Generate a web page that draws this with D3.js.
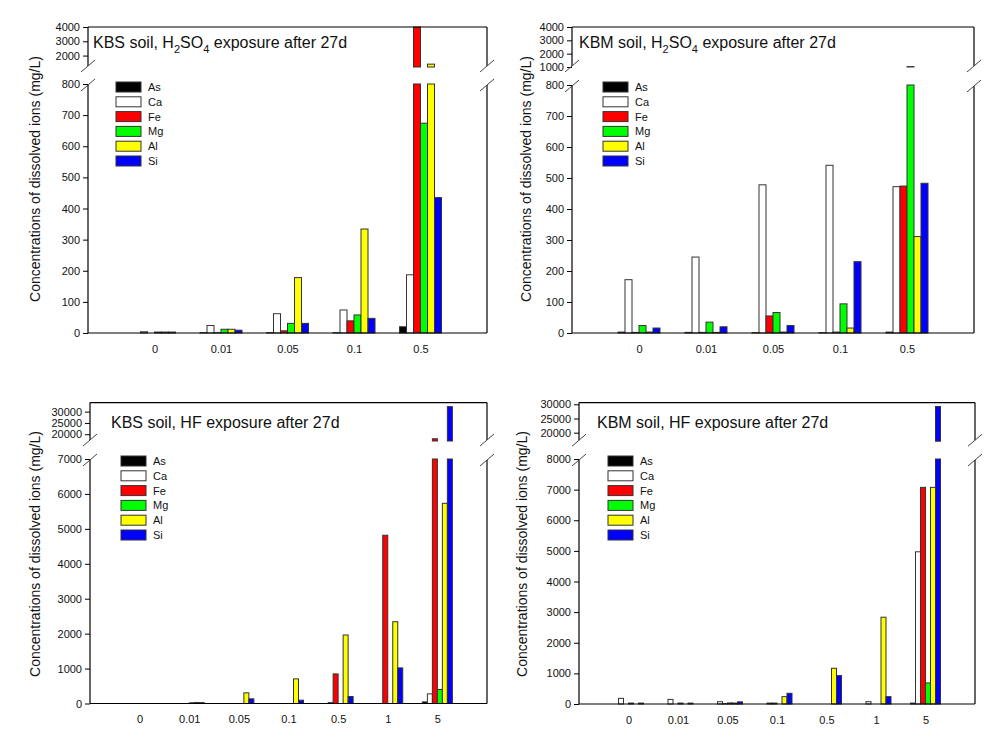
<!DOCTYPE html>
<html>
<head>
<meta charset="utf-8">
<script src="https://cdn.jsdelivr.net/npm/d3@7"></script>
<style>
  html, body { margin: 0; padding: 0; background: #ffffff; }
  svg { display: block; }
</style>
</head>
<body>
<script>
// ---------------- DATA ----------------
const ions = ["As", "Ca", "Fe", "Mg", "Al", "Si"];
const acidLevelsH2SO4 = ["0", "0.01", "0.05", "0.1", "0.5"];
const acidLevelsHF = ["0", "0.01", "0.05", "0.1", "0.5", "1", "5"];

// rows follow the order of `ions`, columns follow the acid levels (mg/L)
const kbsH2SO4Values = [
  [0, 1, 1, 1, 20],          // As
  [4, 24, 62, 74, 187],      // Ca
  [0, 1, 7, 39, 4000],       // Fe
  [3, 12, 31, 58, 674],      // Mg
  [3, 12, 178, 334, 1400],   // Al
  [3, 9, 31, 47, 435]        // Si
];
const kbmH2SO4Values = [
  [3, 2, 1, 1, 3],
  [172, 245, 478, 541, 472],
  [2, 2, 55, 3, 474],
  [24, 35, 66, 94, 1030],
  [3, 2, 3, 16, 311],
  [16, 20, 24, 230, 483]
];
const kbsHFValues = [
  [0, 0, 0, 0, 0, 0, 45],
  [0, 0, 0, 0, 25, 0, 276],
  [0, 0, 0, 0, 847, 4817, 18000],
  [0, 20, 0, 0, 0, 0, 400],
  [0, 30, 305, 705, 1961, 2342, 5731],
  [0, 25, 133, 95, 200, 1019, 32200]
];
const kbmHFValues = [
  [0, 0, 0, 0, 0, 0, 30],
  [185, 150, 75, 30, 0, 76, 4970],
  [0, 0, 10, 30, 0, 0, 7074],
  [30, 30, 35, 0, 0, 0, 687],
  [0, 0, 30, 240, 1166, 2834, 7074],
  [30, 30, 70, 350, 927, 240, 29200]
];

// tick labels
const lowTicksH2SO4 = [0, 100, 200, 300, 400, 500, 600, 700, 800];
const upTicksKBSH2SO4 = [2000, 3000, 4000];
const upTicksKBMH2SO4 = [1000, 2000, 3000, 4000];
const lowTicksKBSHF = [0, 1000, 2000, 3000, 4000, 5000, 6000, 7000];
const lowTicksKBMHF = [0, 1000, 2000, 3000, 4000, 5000, 6000, 7000, 8000];
const upTicksHF = [20000, 25000, 30000];

const yAxisTitle = "Concentrations of dissolved ions (mg/L)";

// ---------------- STYLE / LAYOUT ----------------
const FONT = "'Liberation Sans', Arial, Helvetica, sans-serif";
const ionColors = ["#000000", "#ffffff", "#ff0000", "#00ff00", "#ffff00", "#0000ff"];

const panels = [
  {
    titleParts: [["KBS soil, H", 0], ["2", 1], ["SO", 0], ["4", 1], [" exposure after 27d", 0]],
    cats: acidLevelsH2SO4, values: kbsH2SO4Values,
    lowMax: 800, upMin: 1200, upMax: 4000, lowTicks: lowTicksH2SO4, upTicks: upTicksKBSH2SO4,
    left: 88, right: 487, top: 27, upBottom: 67, lowTop: 84, bottom: 333, barW: 7,
    titleX: 93, titleY: 48, legX: 116, legY: 82, ylabX: 35, ylabY: 179
  },
  {
    titleParts: [["KBM soil, H", 0], ["2", 1], ["SO", 0], ["4", 1], [" exposure after 27d", 0]],
    cats: acidLevelsH2SO4, values: kbmH2SO4Values,
    lowMax: 800, upMin: 1000, upMax: 4000, lowTicks: lowTicksH2SO4, upTicks: upTicksKBMH2SO4,
    left: 572, right: 974, top: 27, upBottom: 67, lowTop: 85, bottom: 333, barW: 7,
    titleX: 579, titleY: 48, legX: 603, legY: 82, ylabX: 526, ylabY: 179
  },
  {
    titleParts: [["KBS soil, HF exposure after 27d", 0]],
    cats: acidLevelsHF, values: kbsHFValues,
    lowMax: 7000, upMin: 17000, upMax: 34000, lowTicks: lowTicksKBSHF, upTicks: upTicksHF,
    left: 90, right: 487, top: 402.6, upBottom: 441, lowTop: 459, bottom: 703.5, barW: 5,
    titleX: 111, titleY: 428, legX: 121, legY: 456, ylabX: 35, ylabY: 554
  },
  {
    titleParts: [["KBM soil, HF exposure after 27d", 0]],
    cats: acidLevelsHF, values: kbmHFValues,
    lowMax: 8000, upMin: 17000, upMax: 30600, lowTicks: lowTicksKBMHF, upTicks: upTicksHF,
    left: 579, right: 975, top: 402.6, upBottom: 441.2, lowTop: 459, bottom: 704, barW: 5,
    titleX: 597, titleY: 428, legX: 608, legY: 456, ylabX: 522, ylabY: 554
  }
];

const svg = d3.select("body").append("svg")
  .attr("width", 1007).attr("height", 756)
  .style("background", "#ffffff");

function drawPanel(p) {
  const g = svg.append("g");
  const x = d3.scalePoint().domain(p.cats).range([p.left, p.right]).padding(1);
  const xi = d3.scaleBand().domain(ions).range([-p.barW * 3, p.barW * 3]);
  const yLow = d3.scaleLinear().domain([0, p.lowMax]).range([p.bottom, p.lowTop]).clamp(true);
  const yUp = d3.scaleLinear().domain([p.upMin, p.upMax]).range([p.upBottom, p.top]).clamp(true);

  const recs = [];
  p.values.forEach((row, i) => row.forEach((v, j) => {
    recs.push({ ion: ions[i], color: ionColors[i], cat: p.cats[j], v: v });
  }));

  // lower segment bars
  g.append("g").selectAll("rect")
    .data(recs.filter(d => d.v > 0))
    .join("rect")
    .attr("x", d => x(d.cat) + xi(d.ion))
    .attr("width", xi.bandwidth())
    .attr("y", d => yLow(Math.min(d.v, p.lowMax)))
    .attr("height", d => p.bottom - yLow(Math.min(d.v, p.lowMax)))
    .attr("fill", d => d.color)
    .attr("stroke", "#333")
    .attr("stroke-width", 1);

  // upper segment bars
  g.append("g").selectAll("rect")
    .data(recs.filter(d => d.v > p.upMin))
    .join("rect")
    .attr("x", d => x(d.cat) + xi(d.ion))
    .attr("width", xi.bandwidth())
    .attr("y", d => yUp(Math.min(d.v, p.upMax)))
    .attr("height", d => p.upBottom - yUp(Math.min(d.v, p.upMax)))
    .attr("fill", d => d.color)
    .attr("stroke", "#333")
    .attr("stroke-width", 1);

  // y axes (ticks + labels)
  const styleAxis = sel => {
    sel.select(".domain").remove();
    sel.attr("font-family", FONT).attr("font-size", 11);
    sel.selectAll(".tick text").attr("fill", "#111");
    sel.selectAll(".tick line").attr("stroke", "#000");
  };
  g.append("g").attr("transform", `translate(${p.left},0)`)
    .call(d3.axisLeft(yLow).tickValues(p.lowTicks).tickSize(5).tickPadding(3).tickFormat(d3.format("d")))
    .call(styleAxis);
  g.append("g").attr("transform", `translate(${p.left},0)`)
    .call(d3.axisLeft(yUp).tickValues(p.upTicks).tickSize(5).tickPadding(3).tickFormat(d3.format("d")))
    .call(styleAxis);

  // x axis labels
  g.append("g").attr("transform", `translate(0,${p.bottom})`)
    .call(d3.axisBottom(x).tickSize(0).tickPadding(12))
    .call(styleAxis);

  // frame lines with breaks
  const s1 = p.upBottom - 1, s2 = p.lowTop + 1;
  const lines = [
    [p.left, p.bottom, p.right, p.bottom],
    [p.left, p.top, p.right, p.top],
    [p.left, p.top, p.left, s1],
    [p.left, s2, p.left, p.bottom],
    [p.right, p.top, p.right, s1],
    [p.right, s2, p.right, p.bottom]
  ];
  g.append("g").selectAll("line").data(lines).join("line")
    .attr("x1", d => d[0]).attr("y1", d => d[1])
    .attr("x2", d => d[2]).attr("y2", d => d[3])
    .attr("stroke", "#000").attr("stroke-width", 1.2);

  // break slashes
  const slashes = [];
  [p.left, p.right].forEach(ax => [s1, s2].forEach(sy => slashes.push([ax - 7, sy + 6, ax + 7, sy - 6])));
  g.append("g").selectAll("line").data(slashes).join("line")
    .attr("x1", d => d[0]).attr("y1", d => d[1])
    .attr("x2", d => d[2]).attr("y2", d => d[3])
    .attr("stroke", "#444").attr("stroke-width", 1);

  // title
  const t = g.append("text").attr("x", p.titleX).attr("y", p.titleY)
    .attr("font-family", FONT).attr("font-size", 16).attr("fill", "#111");
  p.titleParts.forEach(([txt, sub], k) => {
    const ts = t.append("tspan").text(txt);
    if (sub) ts.attr("font-size", 11).attr("dy", 5);
    else if (k > 0 && p.titleParts[k - 1][1]) ts.attr("dy", -5);
  });

  // legend
  const leg = g.append("g").attr("transform", `translate(${p.legX},${p.legY})`);
  const item = leg.selectAll("g").data(ions).join("g")
    .attr("transform", (d, i) => `translate(0,${i * 14.8})`);
  item.append("rect").attr("width", 25).attr("height", 10)
    .attr("fill", (d, i) => ionColors[i]).attr("stroke", "#333").attr("stroke-width", 1);
  item.append("text").attr("x", 32).attr("y", 9)
    .attr("font-family", FONT).attr("font-size", 11).attr("fill", "#111")
    .text(d => d);

  // y axis title
  g.append("text")
    .attr("transform", `translate(${p.ylabX},${p.ylabY}) rotate(-90)`)
    .attr("text-anchor", "middle").attr("dy", "0.35em")
    .attr("font-family", FONT).attr("font-size", 14).attr("fill", "#111")
    .text(yAxisTitle);
}

panels.forEach(drawPanel);
</script>
</body>
</html>
